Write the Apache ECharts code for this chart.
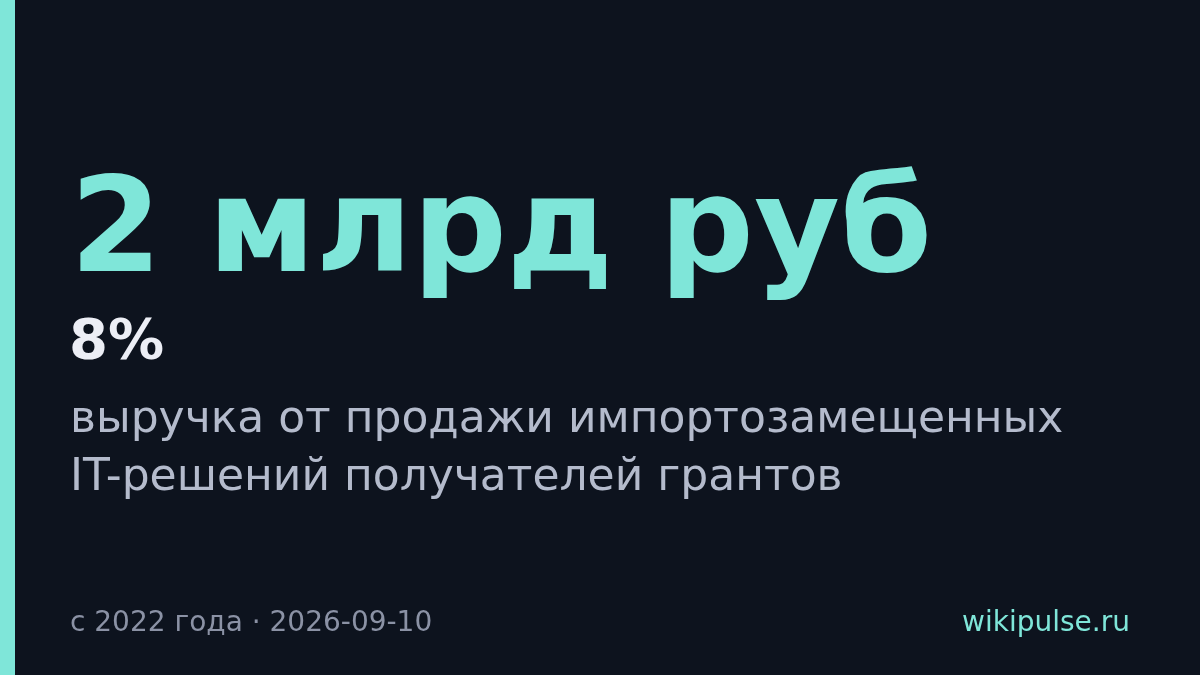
<!DOCTYPE html>
<html>
<head>
<meta charset="utf-8">
<script src="https://cdn.jsdelivr.net/npm/echarts@6/dist/echarts.min.js"></script>
<style>
  html, body { margin: 0; padding: 0; background: #0d131e; }
  #chart { width: 1200px; height: 675px; }
</style>
</head>
<body>
<div id="chart"></div>
<script>
// card texts
const headline = ['2 млрд руб']
const share = ['8%']
const caption = ['выручка от продажи импортозамещенных', 'IT-решений получателей грантов']
const footer = ['с 2022 года · 2026-09-10']
const source = ['wikipulse.ru']

const TEAL = '#7fe6d9'
const FONT = 'DejaVu Sans'

const chart = echarts.init(document.getElementById('chart'), null, { renderer: 'canvas' })

function text (str, x, y, size, color, weight, align) {
  return {
    type: 'text',
    x: x,
    y: y,
    style: {
      text: str,
      fill: color,
      font: (weight || 'normal') + ' ' + size + 'px "' + FONT + '"',
      align: align || 'left',
      verticalAlign: 'bottom',
    },
  }
}

const elements = [
  { type: 'rect', shape: { x: 0, y: 0, width: 15, height: 675 }, style: { fill: TEAL } },
  text(headline[0], 70, 303, 132, TEAL, 'bold'),
  text(share[0], 69, 371, 56, '#eceef5', 'bold'),
]
caption.forEach((line, i) => {
  elements.push(text(line, 70, 443 + i * 58, 44, '#b4bbcc'))
})
elements.push(text(footer[0], 70, 638, 28, '#8b92a5'))
elements.push(text(source[0], 1130, 638, 28, TEAL, 'normal', 'right'))

chart.setOption({
  backgroundColor: '#0d131e',
  animation: false,
  graphic: { elements: elements },
})
</script>
</body>
</html>
